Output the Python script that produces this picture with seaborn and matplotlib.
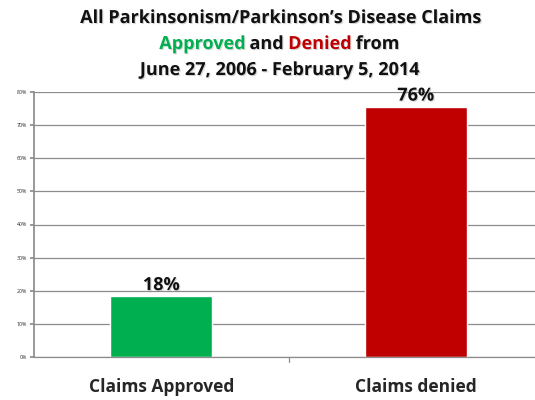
import matplotlib
matplotlib.use("Agg")
import matplotlib.pyplot as plt
import matplotlib.patheffects as pe
import seaborn as sns
import pandas as pd
from matplotlib.ticker import PercentFormatter

categories = ["Claims Approved", "Claims denied"]
values = [18.4, 75.6]
labels = ["18%", "76%"]
colors = ["#00B050", "#C00000"]
yticks = [0, 10, 20, 30, 40, 50, 60, 70, 80]

sns.set_theme(style="white")
plt.rcParams['font.family'] = ['Open Sans', 'DejaVu Sans']

fig = plt.figure(figsize=(5.35, 4.0), dpi=100)
ax = fig.add_axes([34/535, 1 - 357/400, 509/535, (357 - 92)/400])

df = pd.DataFrame({"cat": categories, "val": values})
sns.barplot(data=df, x="cat", y="val", hue="cat", palette=colors, legend=False,
            width=0.40, ax=ax, saturation=1)

ax.set_ylim(0, 80)
ax.set_xlim(-0.5, 1.5)
ax.set_yticks(yticks)
ax.yaxis.set_major_formatter(PercentFormatter(decimals=0))
ax.tick_params(axis='y', labelsize=3.8, length=3, color="#8c8c8c", pad=2, left=True)
ax.tick_params(axis='x', length=0, labelsize=12.5, pad=15)
for lbl in ax.get_xticklabels():
    lbl.set_fontweight('bold')
ax.grid(axis='y', color="#8c8c8c", linewidth=0.9)
ax.set_axisbelow(True)
for s in ["top", "right"]:
    ax.spines[s].set_visible(False)
ax.spines["bottom"].set_color("#8c8c8c")
ax.spines["bottom"].set_linewidth(0.9)
ax.spines["left"].set_color("#8c8c8c")
ax.set_xlabel("")
ax.set_ylabel("")
# category divider tick
ax.plot([0.5, 0.5], [0, -1.6], color="#8c8c8c", lw=0.9, clip_on=False)

shadow = [pe.withSimplePatchShadow(offset=(0.8, -0.8), shadow_rgbFace="#888888", alpha=0.35)]

for i, (v, t) in enumerate(zip(values, labels)):
    ax.text(i, v + 0.6, t, ha='center', va='bottom', fontsize=13, fontweight='bold',
            color="#111111", path_effects=shadow)

# title
fs = 13
cx = 0.522
fig.text(cx, 1 - 18/400, "All Parkinsonism/Parkinson\u2019s Disease Claims", ha='center', va='center',
         fontsize=fs, fontweight='bold', color="#111111", path_effects=shadow)
fig.text(cx, 1 - 70/400, "June 27, 2006 - February 5, 2014", ha='center', va='center',
         fontsize=fs, fontweight='bold', color="#111111", path_effects=shadow)

parts = [("Approved", "#00B050"), (" and ", "#111111"), ("Denied", "#C00000"), (" from", "#111111")]
fig.canvas.draw()
renderer = fig.canvas.get_renderer()
texts = []
widths = []
for s, c in parts:
    t = fig.text(0, 1 - 44/400, s, ha='left', va='center', fontsize=fs, fontweight='bold',
                 color=c, path_effects=shadow)
    texts.append(t)
for t in texts:
    bb = t.get_window_extent(renderer=renderer)
    widths.append(bb.width)
total = sum(widths)
figw = fig.bbox.width
x = cx * figw - total / 2
for t, w in zip(texts, widths):
    t.set_x(x / figw)
    x += w

fig.savefig("out.png", dpi=100)
